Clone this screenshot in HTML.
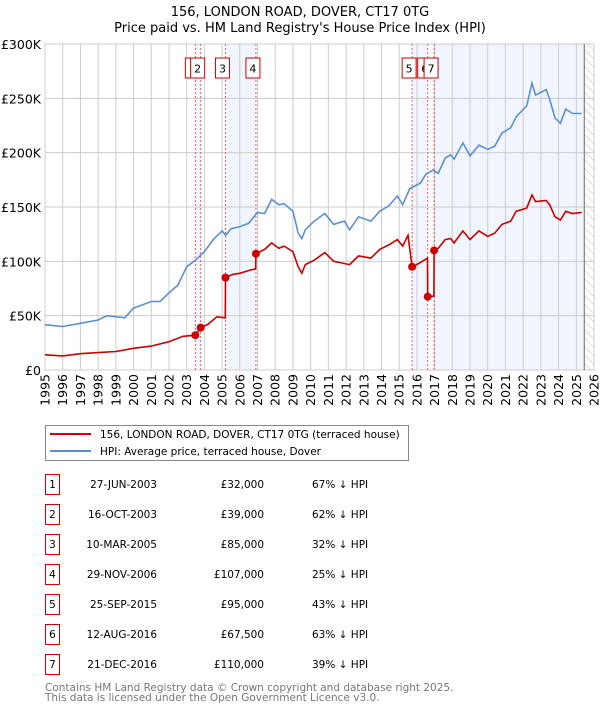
<!DOCTYPE html>
<html><head><meta charset="utf-8"><style>
body{margin:0;background:#fff;font-family:"DejaVu Sans","Liberation Sans",sans-serif}
#wrap{position:relative;width:600px;height:710px;overflow:hidden}
text{font-family:"DejaVu Sans","Liberation Sans",sans-serif}
</style></head><body><div id="wrap">
<svg id="svg" width="600" height="710">
<defs><pattern id="hatch" width="6" height="6" patternUnits="userSpaceOnUse" patternTransform="rotate(-45)"><line x1="0" y1="0" x2="0" y2="6" stroke="#bbb" stroke-width="1"/></pattern></defs>
<text x="300" y="16" text-anchor="middle" font-size="13">156, LONDON ROAD, DOVER, CT17 0TG</text>
<text x="300" y="32" text-anchor="middle" font-size="13">Price paid vs. HM Land Registry's House Price Index (HPI)</text>
</svg></div>
<script>
const hpiYears=[1995,1996,1997,1998,1998.5,1999.5,2000,2001,2001.5,2002,2002.5,2003,2003.5,2004,2004.5,2005,2005.2,2005.5,2006,2006.5,2007,2007.4,2007.8,2008.2,2008.5,2009,2009.3,2009.5,2009.7,2010.2,2010.8,2011.3,2011.9,2012.2,2012.7,2013.4,2013.9,2014.4,2014.9,2015.2,2015.6,2016.2,2016.5,2016.9,2017.2,2017.6,2017.9,2018.1,2018.6,2019.0,2019.5,2020.0,2020.4,2020.8,2021.3,2021.6,2022.2,2022.5,2022.7,2023.3,2023.5,2023.8,2024.1,2024.4,2024.8,2025.3];
const hpiValues=[41.7,40,43,46,50,48,57,63,63,71,78,95,101,109,120,128,124,130,132,135,145,144,157,152,153,146,126,121,129,137,144,134,137,129,141,137,146,151,160,152,167,172,180,184,181,195,198,194,209,197,207,203,206,218,223,233,243,264,253,258,249,232,227,240,236,236];
const redYears=[1995,1996,1997,1998,1999,2000,2001,2002,2002.8,2003.49,2003.79,2004.2,2004.7,2005.18,2005.19,2005.6,2006.0,2006.6,2006.9,2006.91,2007.4,2007.8,2008.2,2008.5,2009.0,2009.3,2009.5,2009.7,2010.2,2010.8,2011.3,2011.9,2012.2,2012.7,2013.4,2013.9,2014.4,2014.9,2015.2,2015.5,2015.73,2016.1,2016.5,2016.6,2016.61,2016.96,2016.97,2017.2,2017.6,2017.9,2018.1,2018.6,2019.0,2019.5,2020.0,2020.4,2020.8,2021.3,2021.6,2022.2,2022.5,2022.7,2023.3,2023.5,2023.8,2024.1,2024.4,2024.8,2025.3];
const redValues=[14,13,15,16,17,20,22,26,31,32,39,42,49,48,85,88,89,92,93,107,111,117,112,114,109,95,89,97,101,108,100,98,97,105,103,111,115,120,114,124,95,98,102,103,67.5,68,110,112,120,121,117,128,120,128,123,126,134,137,146,149,161,155,156,152,141,138,146,144,145];
const saleYears=[2003.49,2003.79,2005.19,2006.91,2015.73,2016.61,2016.97];
const saleValues=[32,39,85,107,95,67.5,110];
const saleLabels=["1","2","3","4","5","6","7"];
const saleDates=["27-JUN-2003","16-OCT-2003","10-MAR-2005","29-NOV-2006","25-SEP-2015","12-AUG-2016","21-DEC-2016"];
const salePrices=["£32,000","£39,000","£85,000","£107,000","£95,000","£67,500","£110,000"];
const salePct=["67% ↓ HPI","62% ↓ HPI","32% ↓ HPI","25% ↓ HPI","43% ↓ HPI","63% ↓ HPI","39% ↓ HPI"];
const yTicks=[0,50,100,150,200,250,300];
const yTickLabels=["£0","£50K","£100K","£150K","£200K","£250K","£300K"];
const xTicks=[];for(let y=1995;y<=2026;y++)xTicks.push(y);
const dataEnd=2025.45;

const L=45,R=594,T=44,B=370;
const xs=v=>L+(v-1995)/(2026-1995)*(R-L);
const ys=v=>B-v/300*(B-T);
const svg=document.getElementById('svg');
const NS='http://www.w3.org/2000/svg';
function mk(tag,attrs,parent){const e=document.createElementNS(NS,tag);for(const k in attrs)e.setAttribute(k,attrs[k]);(parent||svg).appendChild(e);return e;}

// shaded bands
for(let i=0;i<saleYears.length;i+=2){
 const x0=xs(saleYears[i]),x1=xs(i+1<saleYears.length?saleYears[i+1]:dataEnd);
 const b=mk('rect',{x:x0,y:T,width:x1-x0,height:B-T,fill:'#eef3fc',opacity:0.8});
 
 
}
// hatch
const h=mk('rect',{x:xs(dataEnd),y:T,width:R-xs(dataEnd),height:B-T,fill:'url(#hatch)'});


// grid
yTicks.forEach((t,i)=>{
 const g=mk('line',{x1:L,x2:R,y1:ys(t),y2:ys(t),stroke:'#ccc','stroke-width':1});
 
 
 const tx=mk('text',{x:L-4,y:ys(t)+5,'text-anchor':'end','font-size':12.5});
 tx.textContent=yTickLabels[i];
 
 
});
xTicks.forEach(t=>{
 const g=mk('line',{x1:xs(t),x2:xs(t),y1:T,y2:B,stroke:'#ccc','stroke-width':1});
 
 
 const tx=mk('text',{x:0,y:0,'text-anchor':'end','font-size':12.5,transform:`translate(${xs(t)+4.5},${B+4}) rotate(-90)`});
 tx.textContent=t;
 
 
});
const ln=mk('line',{x1:xs(dataEnd),x2:xs(dataEnd),y1:T,y2:B,stroke:'#666','stroke-width':1});


// sale lines
saleYears.forEach(s=>{
 const l=mk('line',{x1:xs(s),x2:xs(s),y1:T,y2:B,stroke:'#e06060','stroke-width':1,'stroke-dasharray':'2,2'});
 
 
});
// series
function path(xa,va){return xa.map((x,i)=>(i?'L':'M')+xs(x).toFixed(1)+','+ys(va[i]).toFixed(1)).join('');}
const hp=mk('path',{d:path(hpiYears,hpiValues),fill:'none',stroke:'#5b8fd4','stroke-width':1.6});


const rp=mk('path',{d:path(redYears,redValues),fill:'none',stroke:'#cc0000','stroke-width':1.6});


saleYears.forEach((s,i)=>{
 const c=mk('circle',{cx:xs(s),cy:ys(saleValues[i]),r:4,fill:'#cc0000'});
 
 
});
saleYears.forEach((s,i)=>{
 const x=xs(s)-3;
 const g=mk('g',{});
 
 
 mk('rect',{x:x-7,y:58,width:14,height:20,fill:'#fff',stroke:'#cc0000','stroke-width':1},g);
 const t=mk('text',{x:x,y:72.5,'text-anchor':'middle','font-size':11},g);
 t.textContent=saleLabels[i];
});
// legend
const lg=mk('g',{});


mk('rect',{x:45.5,y:425.5,width:363,height:35,fill:'#fff',stroke:'#888'},lg);
mk('line',{x1:50,x2:91,y1:434,y2:434,stroke:'#cc0000','stroke-width':2},lg);
mk('line',{x1:50,x2:91,y1:451,y2:451,stroke:'#5b8fd4','stroke-width':2},lg);
let t1=mk('text',{x:100,y:438,'font-size':10.5},lg);t1.textContent='156, LONDON ROAD, DOVER, CT17 0TG (terraced house)';
let t2=mk('text',{x:100,y:455,'font-size':10.5},lg);t2.textContent='HPI: Average price, terraced house, Dover';
// table
saleYears.forEach((s,i)=>{
 const y=483+i*30;
 const g=mk('g',{});
 
 
 mk('rect',{x:45.5,y:y-8.5,width:14,height:20,fill:'#fff',stroke:'#cc0000'},g);
 let a=mk('text',{x:52.5,y:y+5,'text-anchor':'middle','font-size':10.5},g);a.textContent=saleLabels[i];
 let b=mk('text',{x:157,y:y+5,'text-anchor':'end','font-size':10.5},g);b.textContent=saleDates[i];
 let c=mk('text',{x:264,y:y+5,'text-anchor':'end','font-size':10.5},g);c.textContent=salePrices[i];
 let d=mk('text',{x:312,y:y+5,'font-size':10.5},g);d.textContent=salePct[i];
});
let f1=mk('text',{x:45,y:691,'font-size':10.5,fill:'#777'});f1.textContent='Contains HM Land Registry data © Crown copyright and database right 2025.';


let f2=mk('text',{x:45,y:701,'font-size':10.5,fill:'#777'});f2.textContent='This data is licensed under the Open Government Licence v3.0.';


</script></body></html>
